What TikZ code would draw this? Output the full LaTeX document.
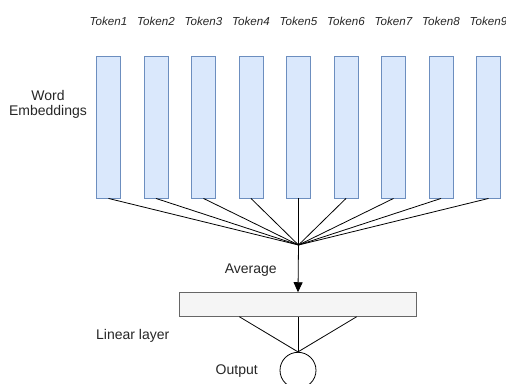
\documentclass[tikz,border=0pt]{standalone}
\usepackage{fontspec}
\setmainfont{Liberation Sans}
\usetikzlibrary{arrows.meta}
\definecolor{embfill}{HTML}{DAE8FC}
\definecolor{embdraw}{HTML}{6C8EBF}
\definecolor{layfill}{HTML}{F5F5F5}
\definecolor{laydraw}{HTML}{666666}
\tikzset{
  embbox/.style={draw=embdraw, fill=embfill, line width=0.9pt, minimum width=24pt, minimum height=142pt, inner sep=0pt},
  toklabel/.style={font=\fontsize{11.6}{13}\selectfont\itshape, text=black!85, inner sep=0pt},
  lbl/.style={font=\fontsize{14}{16}\selectfont, text=black!85, inner sep=0pt, align=center},
  link/.style={black, line width=0.8pt},
}
\begin{document}
\begin{tikzpicture}[x=1pt, y=-1pt]
\useasboundingbox (0,0) rectangle (506,383);
\clip (0,0) rectangle (506,383);

% word embedding columns with their token labels
\foreach \i in {1,...,9} {
  \node[embbox] (e\i) at ({108.5+47.5*(\i-1)},127) {};
  \node[toklabel] (t\i) at ({108.5+47.5*(\i-1)},21.5) {Token\i};
}
\node[lbl] (we) at (48,104) {Word\\[-1pt]Embeddings};

% averaging point
\coordinate (avg) at (298.5,245);
\foreach \i in {1,...,9} {
  \draw[link] (e\i.south) -- (avg);
}

% linear layer
\node[draw=laydraw, fill=layfill, line width=0.9pt, minimum width=237pt, minimum height=24pt, inner sep=0pt] (lin) at (298,304.7) {};
\draw[link, -{Triangle[length=10pt, width=9pt]}] (avg) -- (lin.north);
\node[lbl] (avglbl) at (250.7,270) {Average};
\node[lbl] (linlbl) at (132.7,336) {Linear layer};

% output unit
\node[draw=black, line width=0.8pt, circle, minimum size=36pt, inner sep=0pt] (out) at (298,370.3) {};
\coordinate (l1) at (239.3,316.7);
\coordinate (l2) at (356.7,316.7);
\draw[link] (l1) -- (out.north);
\draw[link] (lin.south) -- (out.north);
\draw[link] (l2) -- (out.north);
\node[lbl] (outlbl) at (236.7,370.7) {Output};
\end{tikzpicture}
\end{document}
